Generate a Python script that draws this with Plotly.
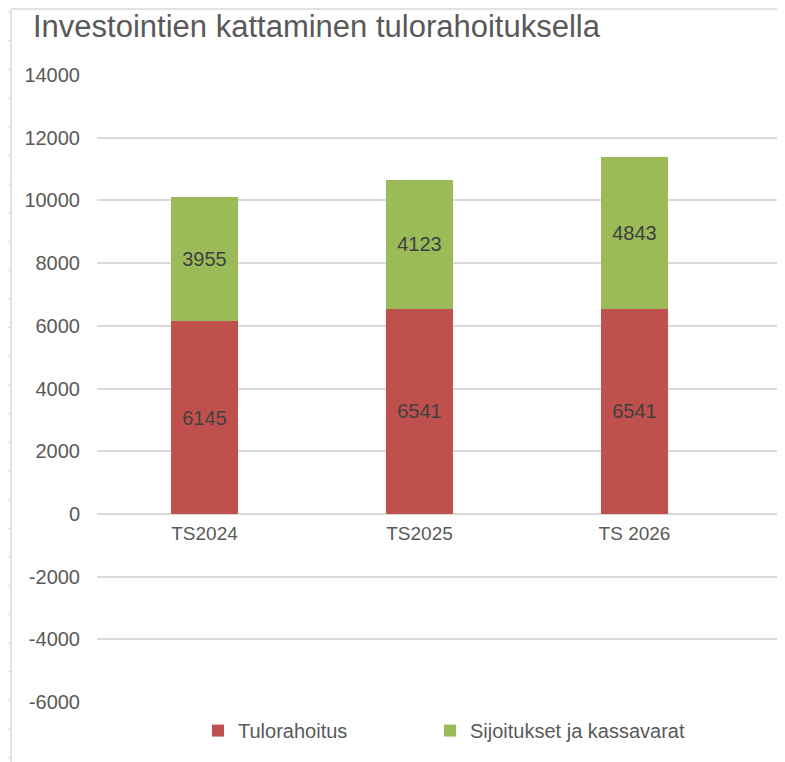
import plotly.graph_objects as go

categories = ["TS2024", "TS2025", "TS 2026"]
tulorahoitus = [6145, 6541, 6541]
sijoitukset = [3955, 4123, 4843]
series_names = ["Tulorahoitus", "Sijoitukset ja kassavarat"]
y_ticks = [-6000, -4000, -2000, 0, 2000, 4000, 6000, 8000, 10000, 12000, 14000]

FONT = "Liberation Sans, Arial, sans-serif"
RED = "#C0504D"
GREEN = "#9BBB59"
GRID = "#D9D9D9"
OFF = 8  # page body margin offset

W, H = 785, 762
L = 97 - OFF
T = 75 - OFF
PLOT_H = 627.4
B = H - T - PLOT_H
R = 0
PLOT_W = W - L - R
CAT_PX = 215.0
YMIN, YMAX = -6000, 14000

px2x = lambda px: (px - OFF - L) / PLOT_W
py2y = lambda py: 1 - (py - OFF - T) / PLOT_H

fig = go.Figure()
for name, vals, col, leg in [(series_names[0], tulorahoitus, RED, "legend"),
                             (series_names[1], sijoitukset, GREEN, "legend2")]:
    fig.add_trace(go.Bar(
        x=categories, y=vals, name=name, marker=dict(color=col, line=dict(width=0)),
        width=0.31, text=[str(v) for v in vals], textposition="inside",
        insidetextanchor="middle", textangle=0, constraintext="none",
        textfont=dict(family=FONT, size=20, color="#404040"), legend=leg,
    ))

leg_common = dict(orientation="h", xanchor="left", yanchor="middle", y=py2y(731),
                  font=dict(family=FONT, size=20, color="#595959"), bgcolor="rgba(0,0,0,0)")

fig.update_layout(
    width=W, height=H, barmode="stack",
    margin=dict(l=L, r=R, t=T, b=B),
    paper_bgcolor="white", plot_bgcolor="white",
    title=dict(text="Investointien kattaminen tulorahoituksella", x=(33 - OFF) / W, xanchor="left",
               y=1 - (26 - OFF) / H, yanchor="middle",
               font=dict(family=FONT, size=31, color="#595959")),
    xaxis=dict(range=[-0.5, -0.5 + PLOT_W / CAT_PX], showgrid=False, showline=False, zeroline=False,
               anchor="free", position=(0 - YMIN) / (YMAX - YMIN),
               tickfont=dict(family=FONT, size=19, color="#595959"), ticks="",
               ticklabelstandoff=6),
    yaxis=dict(range=[YMIN, YMAX], tickvals=y_ticks, ticktext=[str(v) for v in y_ticks],
               showgrid=True, gridcolor=GRID, gridwidth=1.5, zeroline=True, zerolinecolor=GRID,
               zerolinewidth=1.5, showline=False,
               tickfont=dict(family=FONT, size=20, color="#595959"), ticklabelstandoff=16),
    legend=dict(x=px2x(198), **leg_common),
    legend2=dict(x=px2x(430), **leg_common),
    showlegend=True,
)

# spreadsheet border decorations (page px -> paper coords)
shapes = []
shapes.append(dict(type="line", xref="paper", yref="paper", x0=px2x(11), x1=px2x(11),
                   y0=py2y(9), y1=py2y(H + OFF), line=dict(color=GRID, width=1.5)))
shapes.append(dict(type="line", xref="paper", yref="paper", x0=px2x(11), x1=px2x(W + OFF),
                   y0=py2y(9), y1=py2y(9), line=dict(color=GRID, width=1.5)))
yy = 12.0
while yy < H + OFF:
    shapes.append(dict(type="line", xref="paper", yref="paper", x0=px2x(7), x1=px2x(11),
                       y0=py2y(yy), y1=py2y(yy), line=dict(color=GRID, width=1)))
    yy += 28.7
fig.update_layout(shapes=shapes)

fig.write_html("out.html")
